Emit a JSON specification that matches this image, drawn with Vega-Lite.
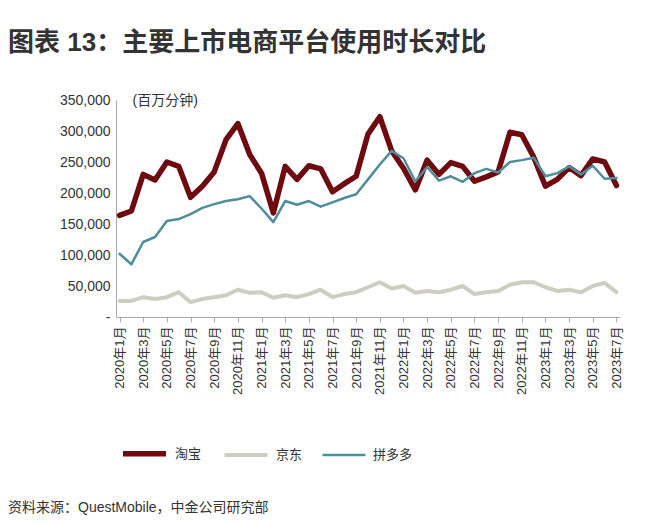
{
"$schema": "https://vega.github.io/schema/vega-lite/v6.json",
"padding": {"left": 8, "top": 30, "right": 5, "bottom": 5},
"background": "white",
"title": {"text": "图表 13：主要上市电商平台使用时长对比", "anchor": "start", "frame": "bounds", "fontSize": 26, "fontWeight": "bold", "font": "Liberation Sans, Noto Sans CJK SC", "color": "#333333", "offset": 37},
"config": {"view": {"stroke": null}, "font": "Liberation Sans, Noto Sans CJK SC"},
"vconcat": [{
"width": 504,
"height": 217,
"title": {"text": "资料来源：QuestMobile，中金公司研究部", "orient": "bottom", "anchor": "start", "frame": "group", "dx": -108, "fontSize": 14, "fontWeight": "normal", "color": "#333333", "offset": 107, "font": "Liberation Sans, Noto Sans CJK SC"},
"data": {"values": [
{"month":"2020年1月","platform":"淘宝","value":164000},{"month":"2020年2月","platform":"淘宝","value":171000},{"month":"2020年3月","platform":"淘宝","value":230000},{"month":"2020年4月","platform":"淘宝","value":221000},{"month":"2020年5月","platform":"淘宝","value":250000},{"month":"2020年6月","platform":"淘宝","value":243000},{"month":"2020年7月","platform":"淘宝","value":193000},{"month":"2020年8月","platform":"淘宝","value":211000},{"month":"2020年9月","platform":"淘宝","value":234000},{"month":"2020年10月","platform":"淘宝","value":286000},{"month":"2020年11月","platform":"淘宝","value":312000},{"month":"2020年12月","platform":"淘宝","value":262000},
{"month":"2021年1月","platform":"淘宝","value":232000},{"month":"2021年2月","platform":"淘宝","value":168000},{"month":"2021年3月","platform":"淘宝","value":243000},{"month":"2021年4月","platform":"淘宝","value":222000},{"month":"2021年5月","platform":"淘宝","value":244000},{"month":"2021年6月","platform":"淘宝","value":239000},{"month":"2021年7月","platform":"淘宝","value":202000},{"month":"2021年8月","platform":"淘宝","value":215000},{"month":"2021年9月","platform":"淘宝","value":227000},{"month":"2021年10月","platform":"淘宝","value":295000},{"month":"2021年11月","platform":"淘宝","value":323000},{"month":"2021年12月","platform":"淘宝","value":268000},
{"month":"2022年1月","platform":"淘宝","value":240000},{"month":"2022年2月","platform":"淘宝","value":205000},{"month":"2022年3月","platform":"淘宝","value":253000},{"month":"2022年4月","platform":"淘宝","value":230000},{"month":"2022年5月","platform":"淘宝","value":249000},{"month":"2022年6月","platform":"淘宝","value":243000},{"month":"2022年7月","platform":"淘宝","value":219000},{"month":"2022年8月","platform":"淘宝","value":226000},{"month":"2022年9月","platform":"淘宝","value":234000},{"month":"2022年10月","platform":"淘宝","value":298000},{"month":"2022年11月","platform":"淘宝","value":294000},{"month":"2022年12月","platform":"淘宝","value":258000},
{"month":"2023年1月","platform":"淘宝","value":211000},{"month":"2023年2月","platform":"淘宝","value":222000},{"month":"2023年3月","platform":"淘宝","value":241000},{"month":"2023年4月","platform":"淘宝","value":228000},{"month":"2023年5月","platform":"淘宝","value":255000},{"month":"2023年6月","platform":"淘宝","value":250000},{"month":"2023年7月","platform":"淘宝","value":212000},
{"month":"2020年1月","platform":"京东","value":26000},{"month":"2020年2月","platform":"京东","value":26000},{"month":"2020年3月","platform":"京东","value":32000},{"month":"2020年4月","platform":"京东","value":29000},{"month":"2020年5月","platform":"京东","value":32000},{"month":"2020年6月","platform":"京东","value":40000},{"month":"2020年7月","platform":"京东","value":24000},{"month":"2020年8月","platform":"京东","value":29000},{"month":"2020年9月","platform":"京东","value":32000},{"month":"2020年10月","platform":"京东","value":35000},{"month":"2020年11月","platform":"京东","value":44000},{"month":"2020年12月","platform":"京东","value":39000},
{"month":"2021年1月","platform":"京东","value":40000},{"month":"2021年2月","platform":"京东","value":31000},{"month":"2021年3月","platform":"京东","value":35000},{"month":"2021年4月","platform":"京东","value":32000},{"month":"2021年5月","platform":"京东","value":37000},{"month":"2021年6月","platform":"京东","value":44000},{"month":"2021年7月","platform":"京东","value":32000},{"month":"2021年8月","platform":"京东","value":37000},{"month":"2021年9月","platform":"京东","value":40000},{"month":"2021年10月","platform":"京东","value":48000},{"month":"2021年11月","platform":"京东","value":56000},{"month":"2021年12月","platform":"京东","value":46000},
{"month":"2022年1月","platform":"京东","value":50000},{"month":"2022年2月","platform":"京东","value":39000},{"month":"2022年3月","platform":"京东","value":42000},{"month":"2022年4月","platform":"京东","value":40000},{"month":"2022年5月","platform":"京东","value":44000},{"month":"2022年6月","platform":"京东","value":50000},{"month":"2022年7月","platform":"京东","value":37000},{"month":"2022年8月","platform":"京东","value":40000},{"month":"2022年9月","platform":"京东","value":42000},{"month":"2022年10月","platform":"京东","value":52000},{"month":"2022年11月","platform":"京东","value":56000},{"month":"2022年12月","platform":"京东","value":56000},
{"month":"2023年1月","platform":"京东","value":48000},{"month":"2023年2月","platform":"京东","value":42000},{"month":"2023年3月","platform":"京东","value":44000},{"month":"2023年4月","platform":"京东","value":40000},{"month":"2023年5月","platform":"京东","value":50000},{"month":"2023年6月","platform":"京东","value":55000},{"month":"2023年7月","platform":"京东","value":40000},
{"month":"2020年1月","platform":"拼多多","value":102000},{"month":"2020年2月","platform":"拼多多","value":85000},{"month":"2020年3月","platform":"拼多多","value":121000},{"month":"2020年4月","platform":"拼多多","value":129000},{"month":"2020年5月","platform":"拼多多","value":155000},{"month":"2020年6月","platform":"拼多多","value":158000},{"month":"2020年7月","platform":"拼多多","value":166000},{"month":"2020年8月","platform":"拼多多","value":176000},{"month":"2020年9月","platform":"拼多多","value":182000},{"month":"2020年10月","platform":"拼多多","value":187000},{"month":"2020年11月","platform":"拼多多","value":190000},{"month":"2020年12月","platform":"拼多多","value":195000},
{"month":"2021年1月","platform":"拼多多","value":175000},{"month":"2021年2月","platform":"拼多多","value":153000},{"month":"2021年3月","platform":"拼多多","value":187000},{"month":"2021年4月","platform":"拼多多","value":181000},{"month":"2021年5月","platform":"拼多多","value":187000},{"month":"2021年6月","platform":"拼多多","value":178000},{"month":"2021年7月","platform":"拼多多","value":185000},{"month":"2021年8月","platform":"拼多多","value":192000},{"month":"2021年9月","platform":"拼多多","value":198000},{"month":"2021年10月","platform":"拼多多","value":222000},{"month":"2021年11月","platform":"拼多多","value":246000},{"month":"2021年12月","platform":"拼多多","value":268000},
{"month":"2022年1月","platform":"拼多多","value":256000},{"month":"2022年2月","platform":"拼多多","value":219000},{"month":"2022年3月","platform":"拼多多","value":242000},{"month":"2022年4月","platform":"拼多多","value":220000},{"month":"2022年5月","platform":"拼多多","value":227000},{"month":"2022年6月","platform":"拼多多","value":218000},{"month":"2022年7月","platform":"拼多多","value":232000},{"month":"2022年8月","platform":"拼多多","value":239000},{"month":"2022年9月","platform":"拼多多","value":233000},{"month":"2022年10月","platform":"拼多多","value":250000},{"month":"2022年11月","platform":"拼多多","value":253000},{"month":"2022年12月","platform":"拼多多","value":257000},
{"month":"2023年1月","platform":"拼多多","value":227000},{"month":"2023年2月","platform":"拼多多","value":232000},{"month":"2023年3月","platform":"拼多多","value":243000},{"month":"2023年4月","platform":"拼多多","value":230000},{"month":"2023年5月","platform":"拼多多","value":244000},{"month":"2023年6月","platform":"拼多多","value":223000},{"month":"2023年7月","platform":"拼多多","value":224000}
]},
"mark": {"type": "line", "strokeJoin": "round", "strokeCap": "round"},
"encoding": {
"x": {"field": "month", "type": "ordinal", "sort": null, "scale": {"padding": 0.3},
 "axis": {"title": null, "values": ["2020年1月","2020年3月","2020年5月","2020年7月","2020年9月","2020年11月","2021年1月","2021年3月","2021年5月","2021年7月","2021年9月","2021年11月","2022年1月","2022年3月","2022年5月","2022年7月","2022年9月","2022年11月","2023年1月","2023年3月","2023年5月","2023年7月"],
 "labelAngle": -90, "labelFontSize": 13, "labelPadding": 4, "labelColor": "#333333", "tickSize": 5, "tickColor": "#aaaaaa", "domainColor": "#aaaaaa", "grid": false}},
"y": {"field": "value", "type": "quantitative", "scale": {"domain": [0, 350000]},
 "axis": {"values": [0,50000,100000,150000,200000,250000,300000,350000], "labelExpr": "datum.value == 0 ? '-' : format(datum.value, ',')", "ticks": false, "tickSize": 0, "grid": false, "domainColor": "#aaaaaa", "labelFontSize": 14, "labelColor": "#333333", "labelPadding": 6,
 "title": "(百万分钟)", "titleAngle": 0, "titleAlign": "left", "titleBaseline": "middle", "titleX": 16, "titleY": 0, "titleFontSize": 14, "titleFontWeight": "normal", "titleColor": "#333333"}},
"color": {"field": "platform", "type": "nominal", "scale": {"domain": ["淘宝","京东","拼多多"], "range": ["#6e0b10","#cdcdc0","#4e8d9b"]},
 "legend": {"orient": "none", "legendX": 4, "legendY": 329, "direction": "horizontal", "title": null, "symbolType": "stroke", "symbolSize": 1850, "labelFontSize": 13, "labelColor": "#333333", "columnPadding": 14, "labelOffset": 6, "padding": 0}},
"strokeWidth": {"field": "platform", "type": "nominal", "scale": {"domain": ["淘宝","京东","拼多多"], "range": [5.5, 2.5, 3.5]},
 "legend": {"orient": "none", "legendX": 4, "legendY": 329, "direction": "horizontal", "title": null, "symbolType": "stroke", "symbolSize": 1850, "labelFontSize": 13, "labelColor": "#333333", "columnPadding": 14, "labelOffset": 6, "padding": 0}}
}
}]
}
